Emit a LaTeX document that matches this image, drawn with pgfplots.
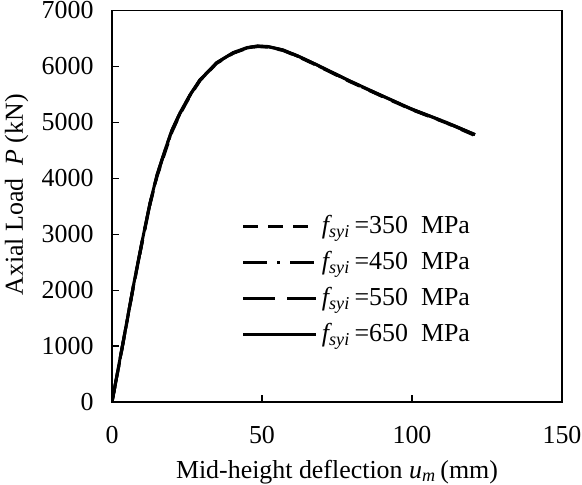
\documentclass[border=0pt]{standalone}
\usepackage{pgfplots}
\pgfplotsset{compat=1.18}
\usepackage{fontspec}
\setmainfont{Liberation Serif}
\begin{document}
\fontsize{13}{15.5}\selectfont
\begin{tikzpicture}
\begin{axis}[
  scale only axis,
  width=225bp, height=195.75bp,
  xmin=0, xmax=150, ymin=0, ymax=7000,
  xtick={0,50,100,150}, ytick={0,1000,...,7000},
  xtick pos=left, ytick pos=left,
  tick align=inside,
  major tick length=3.5bp,
  axis line style={line width=0.6bp},
  every tick/.style={line width=0.6bp, black},
  /pgf/number format/assume math mode=true,
  /pgf/number format/1000 sep={},
  tick label style={font=\fontsize{13}{15.5}\selectfont},
  yticklabel style={xshift=-4.75bp},
  xticklabel style={yshift=-7.5bp},
  xlabel={Mid-height deflection \textit{u\textsubscript{m}}\,(mm)},
  ylabel={Axial Load~~\textit{P} (kN)},
  every axis x label/.style={at={(axis description cs:0.5,0)}, yshift=-38bp, anchor=base, font=\fontsize{13}{15.5}\selectfont},
  every axis y label/.style={at={(axis description cs:0,0.529)}, xshift=-44.5bp, rotate=90, anchor=base, font=\fontsize{13}{15.5}\selectfont},
  legend style={draw=none, fill=none, at={(axis cs:43.2,3420)}, anchor=north west, row sep=3bp, font=\fontsize{13}{15.5}\selectfont, inner sep=0pt},
  legend cell align=left,
  legend image code/.code={\draw[#1] (0bp,0bp) -- (34bp,0bp); \path (0bp,0bp) -- (36.5bp,0bp);},
]
\addplot[black, line width=1.5bp, dash pattern=on 7.5bp off 5bp] coordinates {
(0,0) (2,560) (4,1140) (7.1,2050) (10,2840) (12.7,3540) (15,4030) (17.7,4470) (20,4830) (22.7,5150) (26,5470) (29.3,5745) (34.9,6055) (40.4,6235) (45,6325) (48.5,6355) (52,6345) (57,6285) (62,6175) (68,6025) (79,5735) (90,5465) (100,5225) (111.6,4985) (120.5,4775)};
\addlegendentry{\textit{f\textsubscript{syi}}\,=350~~MPa}
\addplot[black, line width=1.5bp, dash pattern=on 12bp off 5bp on 1.5bp off 5bp] coordinates {
(0,0) (2,570) (4,1150) (7.1,2060) (10,2850) (12.7,3550) (15,4045) (17.7,4495) (20,4850) (22.7,5160) (26,5480) (29.3,5750) (34.9,6060) (40.4,6240) (45,6330) (48.5,6360) (52,6350) (57,6290) (62,6180) (68,6030) (79,5740) (90,5470) (100,5230) (111.6,4990) (120.8,4778)};
\addlegendentry{\textit{f\textsubscript{syi}}\,=450~~MPa}
\addplot[black, line width=1.5bp, dash pattern=on 16bp off 6bp] coordinates {
(0,0) (2,575) (4,1155) (7.1,2065) (10,2860) (12.7,3560) (15,4055) (17.7,4505) (20,4860) (22.7,5170) (26,5488) (29.3,5756) (34.9,6065) (40.4,6244) (45,6334) (48.5,6363) (52,6353) (57,6293) (62,6184) (68,6034) (79,5745) (90,5474) (100,5234) (111.6,4994) (121,4780)};
\addlegendentry{\textit{f\textsubscript{syi}}\,=550~~MPa}
\addplot[black, line width=1.5bp] coordinates {
(0,0) (2,580) (4,1160) (7.1,2070) (10,2865) (12.7,3565) (15,4060) (17.7,4510) (20,4865) (22.7,5175) (26,5492) (29.3,5760) (34.9,6068) (40.4,6247) (45,6337) (48.5,6366) (52,6356) (57,6296) (62,6187) (68,6037) (79,5748) (90,5477) (100,5237) (111.6,4997) (121,4782)};
\addlegendentry{\textit{f\textsubscript{syi}}\,=650~~MPa}
\end{axis}
\pgfresetboundingbox
\path[use as bounding box] (-56bp,-41.5bp) rectangle (235bp,201bp);
\end{tikzpicture}
\end{document}
